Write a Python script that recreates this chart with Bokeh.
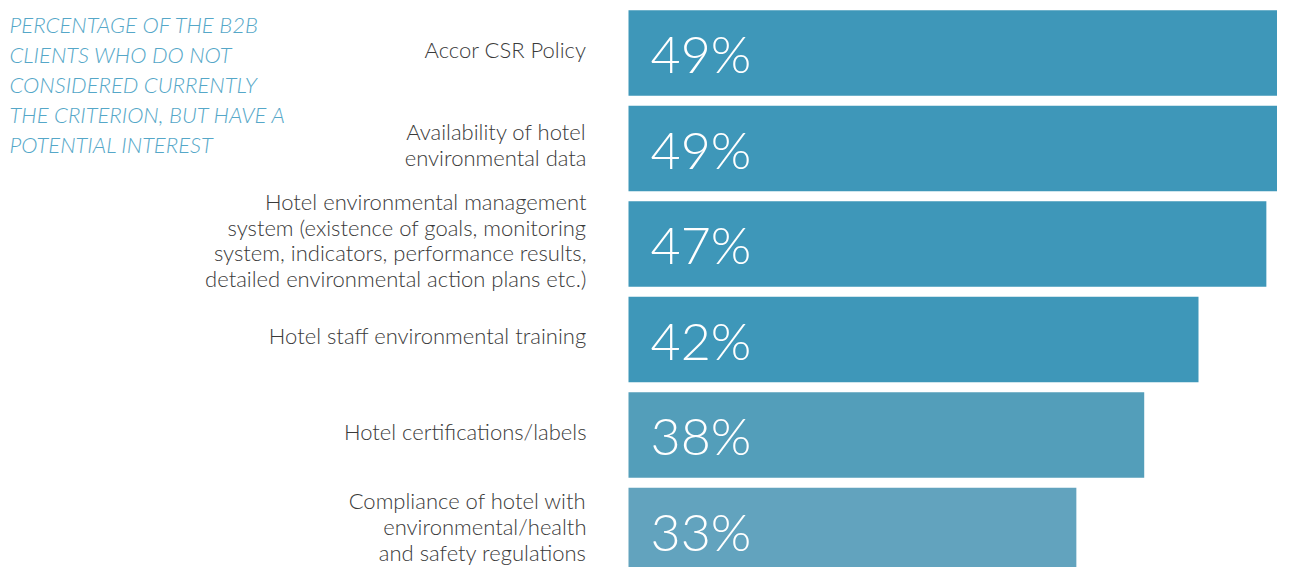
from bokeh.plotting import figure
from bokeh.models import Range1d, ColumnDataSource, Label
from bokeh.core.properties import value
from bokeh.embed import file_html
from bokeh.resources import INLINE

categories = [
    "Accor CSR Policy",
    "Availability of hotel\nenvironmental data",
    "Hotel environmental management\nsystem (existence of goals, monitoring\nsystem, indicators, performance results,\ndetailed environmental action plans etc.)",
    "Hotel staff environmental training",
    "Hotel certifications/labels",
    "Compliance of hotel with\nenvironmental/health\nand safety regulations",
]
values = [49, 49, 47, 42, 38, 33]
value_labels = ["49%", "49%", "47%", "42%", "38%", "33%"]
colors = ["#3e97b9", "#3e97b9", "#3e97b9", "#3e97b9", "#539eba", "#62a3be"]
title_text = "PERCENTAGE OF THE B2B\nCLIENTS WHO DO NOT\nCONSIDERED CURRENTLY\nTHE CRITERION, BUT HAVE A\nPOTENTIAL INTEREST"

W, H = 1277, 567
px_per_unit = 665 / 49.0       # bar length in px per percent
zero_px = 628                  # frame x of the bars' start
row_px = 95.5
first_center_px = 52.5

x_start = -zero_px / px_per_unit
x_end = (W - zero_px) / px_per_unit
y_top = -first_center_px / row_px
y_bottom = (H - first_center_px) / row_px

FONT = "'Lato Light', Lato"

idx = list(range(len(categories)))
src = ColumnDataSource(dict(y=idx, v=values, cat=categories, lab=value_labels,
                            color=colors, zero=[0] * len(idx)))

p = figure(width=W, height=H, output_backend="svg", toolbar_location=None,
           x_range=Range1d(x_start, x_end), y_range=Range1d(y_bottom, y_top),
           min_border=0, min_border_left=0, min_border_right=0,
           min_border_top=0, min_border_bottom=0)
p.axis.visible = False
p.xgrid.visible = False
p.ygrid.visible = False
p.outline_line_color = None
p.background_fill_color = "white"
p.border_fill_color = "white"

p.hbar(y="y", left="zero", right="v", height=0.896, source=src,
       fill_color="color", line_color=None)

p.text(x="zero", y="y", text="cat", source=src, x_offset=-42, y_offset=-4,
       text_align="right", text_baseline="middle",
       text_font=value(FONT), text_font_size="22px",
       text_color="#3a3a3a", text_line_height=0.95)

p.text(x="zero", y="y", text="lab", source=src, x_offset=22, y_offset=0,
       text_align="left", text_baseline="middle",
       text_font=value(FONT), text_font_size="52px",
       text_color="white")

title = Label(x=9, y=H - 10, x_units="screen", y_units="screen",
              text=title_text, text_align="left", text_baseline="top",
              text_font=FONT, text_font_size="22px",
              text_font_style="italic", text_color="#55a7c8",
              text_line_height=1.12)
p.add_layout(title)

open("out.html", "w").write(file_html(p, INLINE))
